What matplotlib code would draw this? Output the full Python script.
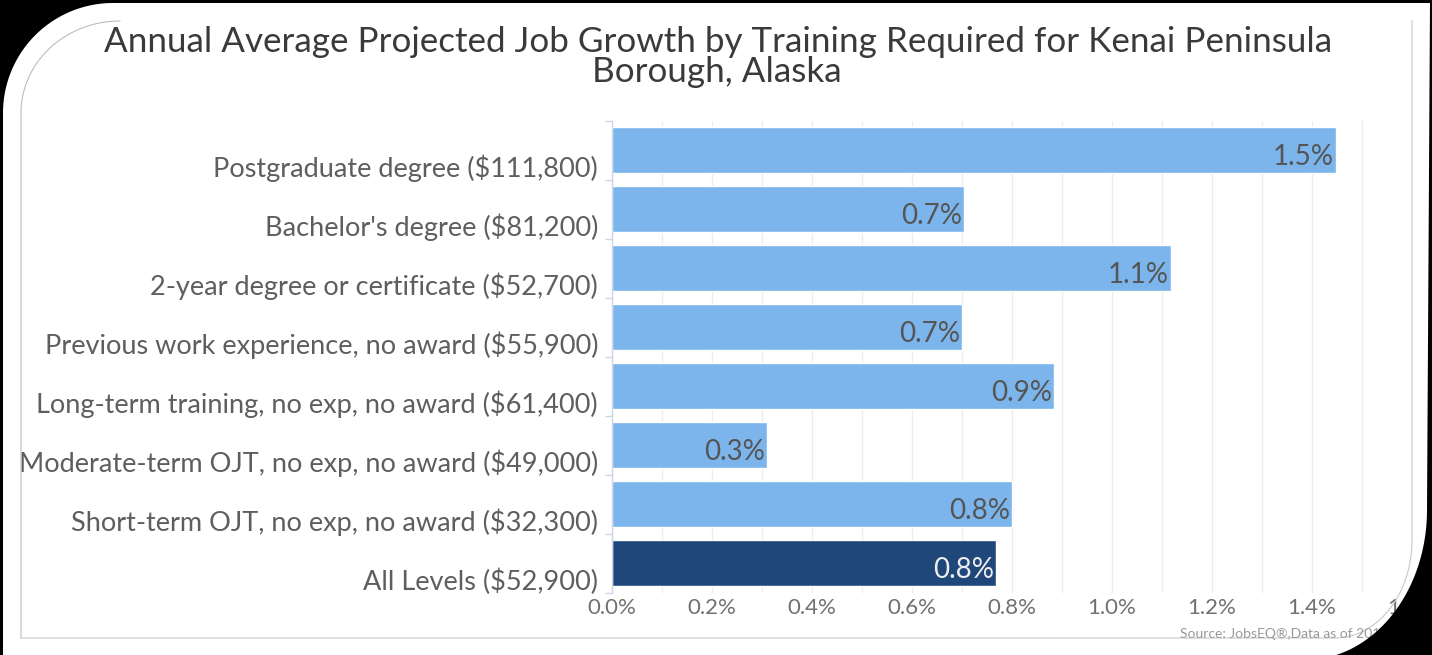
import numpy as np
import matplotlib
matplotlib.use("Agg")
import matplotlib.pyplot as plt
from matplotlib.path import Path
from matplotlib.patches import PathPatch
from matplotlib.lines import Line2D
from matplotlib.transforms import ScaledTranslation

# ---------------- data ----------------
categories = [
    "Postgraduate degree ($111,800)",
    "Bachelor's degree ($81,200)",
    "2-year degree or certificate ($52,700)",
    "Previous work experience, no award ($55,900)",
    "Long-term training, no exp, no award ($61,400)",
    "Moderate-term OJT, no exp, no award ($49,000)",
    "Short-term OJT, no exp, no award ($32,300)",
    "All Levels ($52,900)",
]
growth = [1.448, 0.704, 1.118, 0.700, 0.884, 0.310, 0.800, 0.768]
value_labels = ["1.5%", "0.7%", "1.1%", "0.7%", "0.9%", "0.3%", "0.8%", "0.8%"]
is_total = [False, False, False, False, False, False, False, True]
xtick_values = [0.0, 0.2, 0.4, 0.6, 0.8, 1.0, 1.2, 1.4, 1.6]
xtick_labels = ["0.0%", "0.2%", "0.4%", "0.6%", "0.8%", "1.0%", "1.2%", "1.4%", "1.6%"]
title_lines = ["Annual Average Projected Job Growth by Training Required for Kenai Peninsula",
               "Borough, Alaska"]
source = "Source: JobsEQ\u00ae,Data as of 2019Q1"

# ---------------- style ----------------
plt.rcParams["font.family"] = ["Lato", "DejaVu Sans"]
W, H = 1432, 655
DPI = 100
LIGHT = "#7cb5ec"
DARK = "#1f477a"

fig = plt.figure(figsize=(W / DPI, H / DPI), dpi=DPI, facecolor="white")


def fxy(x, y):
    return x / W, 1 - y / H


# plot area in pixels
px_left, px_right = 612, 1412
px_top, px_bottom = 120.5, 592.5
ax = fig.add_axes([px_left / W, 1 - px_bottom / H,
                   (px_right - px_left) / W, (px_bottom - px_top) / H])

n = len(categories)
ypos = np.arange(n)
colors = [DARK if t else LIGHT for t in is_total]
ax.barh(ypos, growth, height=0.78, color=colors, edgecolor="white",
        linewidth=1, zorder=3)
ax.set_xlim(xtick_values[0], xtick_values[-1])
ax.set_ylim(n - 0.5, -0.5)

# grid every 0.1
ax.set_xticks(xtick_values)
ax.set_xticklabels(xtick_labels)
ax.set_xticks(np.arange(0.1, 1.61, 0.2), minor=True)
ax.grid(True, axis="x", which="both", color="#ededed", linewidth=1, zorder=0)
ax.tick_params(axis="x", which="both", length=0, colors="#707070",
               labelsize=16, pad=4)

ax.set_yticks(ypos)
ax.set_yticklabels(categories)
ax.set_yticks(np.arange(-0.5, n, 1.0), minor=True)
ax.tick_params(axis="y", which="major", length=0, pad=10,
               labelsize=19.5, labelcolor="#5e5e5e")
ax.tick_params(axis="y", which="minor", length=5, width=1, color="#ccd6eb")
off = ScaledTranslation(0, -16 / DPI, fig.dpi_scale_trans)
for lab in ax.get_yticklabels():
    lab.set_transform(lab.get_transform() + off)

for s in ["top", "right", "bottom"]:
    ax.spines[s].set_visible(False)
ax.spines["left"].set_color("#ccd6eb")
ax.spines["left"].set_linewidth(1)
ax.spines["left"].set_zorder(4)

for i, (v, lab) in enumerate(zip(growth, value_labels)):
    ax.annotate(lab, xy=(v, i), xytext=(-1.5, -11), textcoords="offset points",
                ha="right", va="baseline", fontsize=20,
                color="#eeeeee" if is_total[i] else "#555555", zorder=5)

# title (two centred lines) and source
fig.text(*fxy(718, 52), title_lines[0], ha="center", va="baseline",
         fontsize=25.2, color="#3a3a3a")
fig.text(*fxy(717, 82), title_lines[1], ha="center", va="baseline",
         fontsize=25.2, color="#3a3a3a")
fig.text(*fxy(1180, 638), source, ha="left", va="baseline", fontsize=10,
         color="#999999")

# inner thin frame lines
t = np.linspace(np.pi, 1.5 * np.pi, 40)
arc_x = 120 + 99 * np.cos(t)
arc_y = 113 + 92 * np.sin(t)
lx = np.concatenate([[21], arc_x])
ly = np.concatenate([[638], arc_y])
pts = [fxy(a, b) for a, b in zip(lx, ly)]
fig.add_artist(Line2D([p[0] for p in pts], [p[1] for p in pts],
                      color="#bdbdbd", linewidth=0.8, transform=fig.transFigure))
t2 = np.linspace(0, 0.5 * np.pi, 40)
rx = np.concatenate([[1412], 1335 + 77 * np.cos(t2), [21]])
ry = np.concatenate([[21], 540 + 98 * np.sin(t2), [638]])
pts = [fxy(a, b) for a, b in zip(rx, ry)]
fig.add_artist(Line2D([p[0] for p in pts], [p[1] for p in pts],
                      color="#c8c8c8", linewidth=0.8, transform=fig.transFigure))

# black mask outside the rounded white card
ta = np.linspace(np.pi, 1.5 * np.pi, 60)
tb = np.linspace(0, 0.5 * np.pi, 60)
inner = ([(3, 680), (3, 113)]
         + list(zip(113 + 110 * np.cos(ta), 113 + 110 * np.sin(ta)))
         + [(1430, 3), (1427, 510)]
         + list(zip(1305 + 122 * np.cos(tb), 510 + 150 * np.sin(tb)))
         + [(3, 680)])
inner = np.array([fxy(a, b) for a, b in inner])
xs, ys = inner[:, 0], inner[:, 1]
area = 0.5 * np.sum(xs[:-1] * ys[1:] - xs[1:] * ys[:-1])
if area > 0:
    inner = inner[::-1]
outer = np.array([(0, 0), (1, 0), (1, 1), (0, 1), (0, 0)])
verts = np.concatenate([outer, inner])
codes = ([Path.MOVETO] + [Path.LINETO] * 3 + [Path.CLOSEPOLY]
         + [Path.MOVETO] + [Path.LINETO] * (len(inner) - 2) + [Path.CLOSEPOLY])
mask = PathPatch(Path(verts, codes), facecolor="black", edgecolor="none",
                 transform=fig.transFigure, zorder=100)
fig.add_artist(mask)

fig.savefig("out.png", dpi=DPI, facecolor="white")
